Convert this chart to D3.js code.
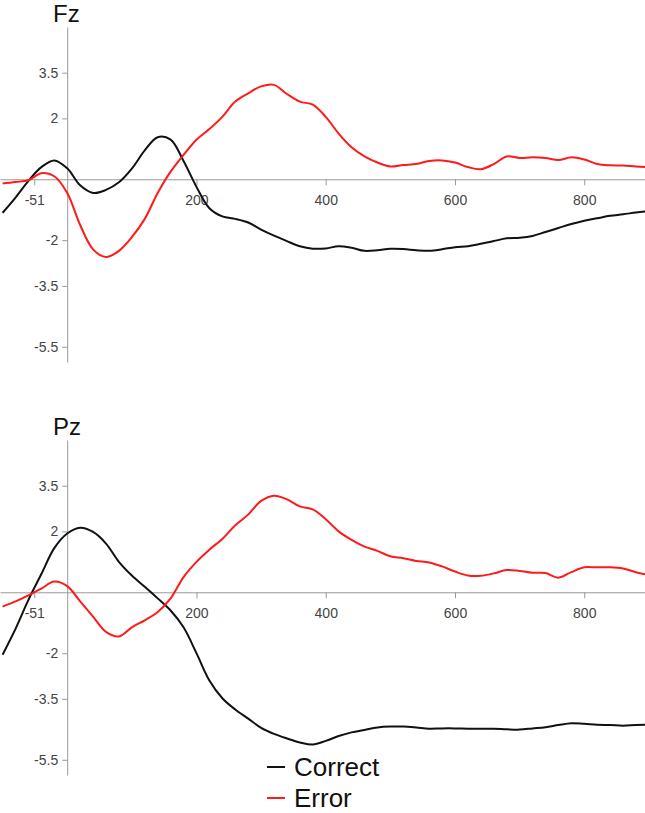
<!DOCTYPE html>
<html>
<head>
<meta charset="utf-8">
<script src="https://cdn.jsdelivr.net/npm/d3@7"></script>
<style>
    body { margin: 0; background: #fff; }
    svg { display: block; font-family: "Liberation Sans", Arial, sans-serif; }
    .axis path, .axis line { stroke: #999; }
    .axis text { fill: #444; font-size: 14px; }
</style>
</head>
<body>
<div id="chart"></div>
<script>
// time in ms, shared by all four waveforms
const times = [-100, -80, -60, -40, -20, 0, 20, 40, 60, 80, 100, 120, 140, 160, 180, 200,
    220, 240, 260, 280, 300, 320, 340, 360, 380, 400, 420, 440, 460, 480, 500, 520, 540,
    560, 580, 600, 620, 640, 660, 680, 700, 720, 740, 760, 780, 800, 820, 840, 860, 880, 900];

const fzCorrect = [-1.1, -0.6, -0.05, 0.4, 0.62, 0.36, -0.2, -0.45, -0.35, -0.1, 0.35, 0.95, 1.38, 1.3, 0.6, -0.25,
    -0.95, -1.22, -1.3, -1.42, -1.65, -1.85, -2.03, -2.2, -2.28, -2.27, -2.2, -2.25, -2.35, -2.33, -2.28, -2.29, -2.33,
    -2.35, -2.3, -2.23, -2.2, -2.12, -2.03, -1.94, -1.92, -1.86, -1.73, -1.6, -1.47, -1.36, -1.28, -1.2, -1.15, -1.09, -1.04];
const fzError = [-0.14, -0.09, -0.03, 0.2, 0.1, -0.45, -1.5, -2.3, -2.55, -2.35, -1.9, -1.3, -0.45, 0.25, 0.8, 1.3,
    1.65, 2.05, 2.55, 2.82, 3.05, 3.1, 2.8, 2.55, 2.45, 2.05, 1.5, 1.05, 0.75, 0.55, 0.42, 0.47, 0.5,
    0.6, 0.62, 0.55, 0.4, 0.33, 0.5, 0.75, 0.7, 0.72, 0.7, 0.63, 0.72, 0.65, 0.5, 0.46, 0.45, 0.42, 0.4];
const pzCorrect = [-2.05, -1.2, -0.25, 0.6, 1.45, 1.93, 2.12, 1.98, 1.6, 1.0, 0.55, 0.18, -0.2, -0.6, -1.15, -2.0,
    -2.9, -3.48, -3.85, -4.15, -4.45, -4.65, -4.8, -4.93, -5.0, -4.88, -4.72, -4.6, -4.52, -4.44, -4.41, -4.41, -4.44,
    -4.48, -4.47, -4.47, -4.48, -4.48, -4.48, -4.5, -4.51, -4.47, -4.43, -4.36, -4.3, -4.32, -4.35, -4.36, -4.38, -4.36, -4.35];
const pzError = [-0.47, -0.3, -0.1, 0.12, 0.35, 0.2, -0.3, -0.8, -1.3, -1.45, -1.15, -0.92, -0.65, -0.2, 0.5, 1.0,
    1.4, 1.75, 2.2, 2.55, 3.0, 3.17, 3.05, 2.82, 2.72, 2.4, 2.0, 1.72, 1.5, 1.36, 1.18, 1.12, 1.03,
    0.98, 0.85, 0.68, 0.55, 0.54, 0.62, 0.73, 0.7, 0.64, 0.63, 0.48, 0.66, 0.82, 0.82, 0.82, 0.78, 0.66, 0.57];

const xTicks = [-51, 200, 400, 600, 800];
const yTicks = [3.5, 2, -2, -3.5, -5.5];
const legendLabels = ['Correct', 'Error'];

const correctColor = '#111';
const errorColor = '#ff1a1a';

const width = 645;
const height = 813;

const svg = d3.select('#chart')
    .append('svg')
    .attr('width', width)
    .attr('height', height);

const x = d3.scaleLinear().domain([-104, 894]).range([0, width]);

const createGraph = (top, title, correctData, errorData) => {
    const y = d3.scaleLinear().domain([-6, 5]).range([top + 335, top]);
    const g = svg.append('g');

    // plain hyphen minus, like the original
    g.append('g')
        .attr('class', 'axis')
        .attr('transform', `translate(0, ${y(0)})`)
        .call(d3.axisBottom(x).tickValues(xTicks).tickSize(6).tickSizeOuter(0).tickPadding(10).tickFormat((d) => String(d)));

    g.append('g')
        .attr('class', 'axis')
        .attr('transform', `translate(${x(0)}, 0)`)
        .call(d3.axisLeft(y).tickValues(yTicks).tickSize(5).tickSizeOuter(0).tickPadding(4).tickFormat((d) => String(d)));

    g.append('text')
        .attr('x', 53)
        .attr('y', top - 5)
        .style('font-size', '24px')
        .style('fill', '#111')
        .text(title);

    const line = d3.line()
        .x((d, i) => x(times[i]))
        .y((d) => y(d))
        .curve(d3.curveCatmullRom);

    g.append('path')
        .datum(correctData)
        .attr('d', line)
        .style('stroke', correctColor)
        .style('stroke-width', 2)
        .style('fill', 'none');

    g.append('path')
        .datum(errorData)
        .attr('d', line)
        .style('stroke', errorColor)
        .style('stroke-width', 2)
        .style('fill', 'none');
};

createGraph(27, 'Fz', fzCorrect, fzError);
createGraph(440, 'Pz', pzCorrect, pzError);

// legend
const legend = svg.append('g').attr('transform', 'translate(267, 767)');
legendLabels.forEach((label, i) => {
    const row = legend.append('g').attr('transform', `translate(0, ${i * 31})`);
    row.append('line')
        .attr('x1', 0).attr('x2', 18)
        .style('stroke', i === 0 ? correctColor : errorColor)
        .style('stroke-width', 2);
    row.append('text')
        .attr('x', 27)
        .attr('y', 9)
        .style('font-size', '26px')
        .style('fill', '#111')
        .text(label);
});
</script>
</body>
</html>
